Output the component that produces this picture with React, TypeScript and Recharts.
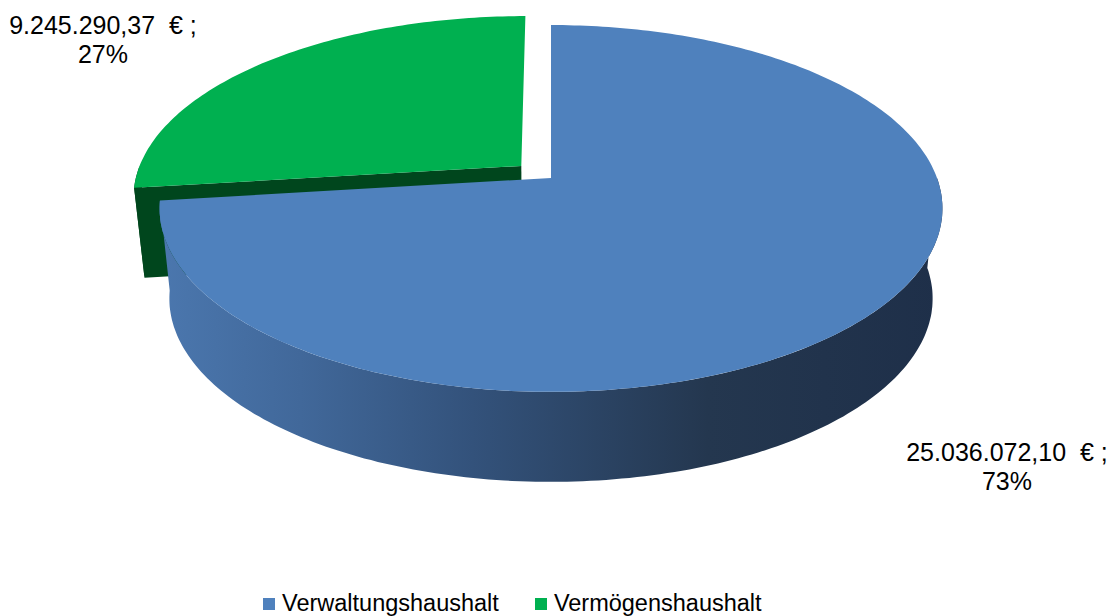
import { PieChart, Pie, Legend } from 'recharts';

const categories = ['Verwaltungshaushalt', 'Vermögenshaushalt'];
const amounts = [25036072.1, 9245290.37];
const colors = ['#4f81bd', '#00b050'];

const WIDTH = 1116;
const HEIGHT = 616;
const TILT = 0.462; // vertical squash of the top face
const PERSP = 0.166; // near edge drawn bigger than far edge
const DEPTH = 90;
const SHRINK = 0.975; // bottom rim a bit narrower than the top
const EXPLODE: Record<string, number> = { 'Vermögenshaushalt': 0.104 };
const SIDE: Record<string, string> = { '#4f81bd': 'url(#blueSide)', '#00b050': '#00461d' };
const LABEL_OFFSET: Record<string, [number, number]> = {
  Verwaltungshaushalt: [456, 283],
  'Vermögenshaushalt': [-448, -144],
};
const FONT = '"Liberation Sans", Arial, sans-serif';
const RAD = Math.PI / 180;

// back slice first, so the big front slice is painted over its walls
const data = [1, 0].map((i) => ({ name: categories[i], value: amounts[i], fill: colors[i] }));

const toPath = (pts: number[][]) =>
  'M' + pts.map((p) => p[0].toFixed(1) + ',' + p[1].toFixed(1)).join('L') + 'Z';

function Slice3D(props: any) {
  const { cx, cy, outerRadius: R, startAngle, endAngle, fill, name } = props;
  const s = Math.min(startAngle, endAngle);
  const e = Math.max(startAngle, endAngle);
  const mid = (s + e) / 2;
  const off = EXPLODE[name] ?? 0;
  const ex = off * Math.cos(mid * RAD);
  const ey = -off * Math.sin(mid * RAD);

  const proj = (u: number, v: number, low = false) => {
    const k = 1 - PERSP * v;
    const x = (R * u) / k;
    const y = (R * TILT * v) / k;
    return low ? [cx + x * SHRINK, cy + y + DEPTH] : [cx + x, cy + y];
  };
  const rim = (a: number, low = false) => proj(Math.cos(a * RAD) + ex, -Math.sin(a * RAD) + ey, low);
  const arc = (a1: number, a2: number, low = false) => {
    const n = Math.max(2, Math.ceil(Math.abs(a2 - a1)));
    const out: number[][] = [];
    for (let i = 0; i <= n; i++) out.push(rim(a1 + ((a2 - a1) * i) / n, low));
    return out;
  };

  const top = proj(ex, ey);
  const bottom = proj(ex, ey, true);
  const side = SIDE[fill] ?? fill;
  const cutColor = fill === colors[1] ? '#00461d' : '#2c4770';

  // outer wall, only the part that faces the viewer
  const w1 = Math.max(s, 180);
  const w2 = Math.min(e, 360);
  const wall = w2 > w1 ? toPath([...arc(w1, w2), ...arc(w2, w1, true)]) : null;

  // cut faces, drawn only when they turn towards the viewer
  const cuts = [
    { a: s, n: s - 90 },
    { a: e, n: e + 90 },
  ].filter((c) => Math.sin(c.n * RAD) < -0.01);

  return (
    <g>
      {wall && <path d={wall} fill={side} />}
      {cuts.map((c) => (
        <path key={c.a} d={toPath([top, rim(c.a), rim(c.a, true), bottom])} fill={cutColor} />
      ))}
      <path d={toPath([top, ...arc(s, e)])} fill={fill} />
    </g>
  );
}

function SliceLabel(props: any) {
  const { cx, cy, name, value, percent } = props;
  const [dx, dy] = LABEL_OFFSET[name] ?? [0, 0];
  const money = value.toLocaleString('de-DE', { minimumFractionDigits: 2, maximumFractionDigits: 2 });
  return (
    <text
      x={cx + dx}
      y={cy + dy}
      textAnchor="middle"
      fontFamily={FONT}
      fontSize={25}
      fill="#000"
      style={{ whiteSpace: 'pre' }}
    >
      <tspan x={cx + dx}>{money + '  € ;'}</tspan>
      <tspan x={cx + dx} dy={29}>{Math.round(percent * 100) + '%'}</tspan>
    </text>
  );
}

function LegendBox() {
  return (
    <div style={{ display: 'flex', alignItems: 'center', fontFamily: FONT, fontSize: 23.5, color: '#000' }}>
      {categories.map((c, i) => (
        <div key={c} style={{ display: 'flex', alignItems: 'center', marginRight: 36 }}>
          <span style={{ width: 12, height: 12, background: colors[i], marginRight: 7, display: 'inline-block' }} />
          <span>{c}</span>
        </div>
      ))}
    </div>
  );
}

export default function App() {
  return (
    <div style={{ position: 'absolute', left: 0, top: 0, background: '#fff' }}>
      <PieChart width={WIDTH} height={HEIGHT} margin={{ top: 0, right: 0, bottom: 0, left: 0 }}>
        <defs>
          <linearGradient id="blueSide" x1="0" y1="0" x2="1" y2="0">
            <stop offset="0%" stopColor="#4b77ae" />
            <stop offset="18%" stopColor="#41689a" />
            <stop offset="40%" stopColor="#33527b" />
            <stop offset="70%" stopColor="#24374f" />
            <stop offset="100%" stopColor="#1e2f49" />
          </linearGradient>
        </defs>
        <Pie
          data={data}
          dataKey="value"
          nameKey="name"
          cx={551}
          cy={178}
          outerRadius={386}
          startAngle={90}
          endAngle={450}
          stroke="none"
          shape={Slice3D}
          label={SliceLabel}
          labelLine={false}
          isAnimationActive={false}
        />
        <Legend content={LegendBox} wrapperStyle={{ position: 'absolute', left: 263, top: 590, width: 'auto' }} />
      </PieChart>
    </div>
  );
}
